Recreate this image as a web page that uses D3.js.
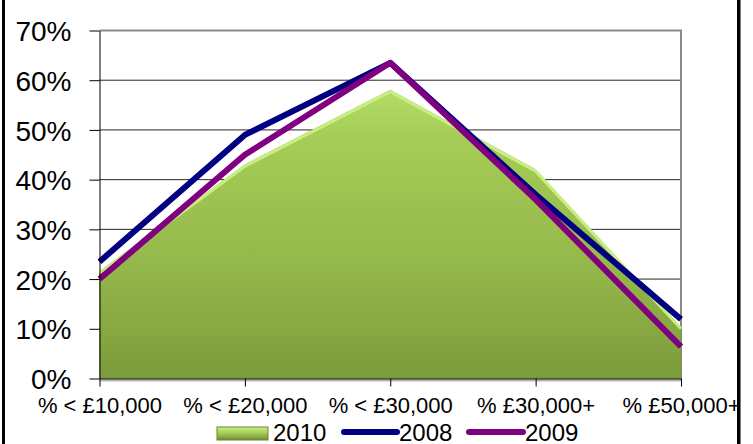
<!DOCTYPE html>
<html>
<head>
<meta charset="utf-8">
<script src="https://cdn.jsdelivr.net/npm/d3@7"></script>
<style>
  body { margin: 0; background: #fff; }
  svg { display: block; font-family: "Liberation Sans", Arial, sans-serif; }
</style>
</head>
<body>
<svg id="chart" width="753" height="444"></svg>
<script>
// categories and series values (fractions)
var categories = ["% < £10,000", "% < £20,000", "% < £30,000", "% £30,000+", "% £50,000+"];
var values2010 = [0.215, 0.43, 0.58, 0.42, 0.103];
var values2008 = [0.235, 0.49, 0.635, 0.37, 0.119];
var values2009 = [0.20, 0.45, 0.635, 0.36, 0.064];
var yTicks = [0, 0.1, 0.2, 0.3, 0.4, 0.5, 0.6, 0.7];

var svg = d3.select("#chart");
var plotLeft = 99.5, plotRight = 681, plotTop = 30.5, plotBottom = 378.5;

var x = d3.scalePoint().domain(categories).range([plotLeft, plotRight]).padding(0);
var y = d3.scaleLinear().domain([0, 0.7]).range([plotBottom, plotTop]);

// outer frame bits (left and right black bars)
svg.append("rect").attr("x", 2).attr("y", 0).attr("width", 3).attr("height", 444).attr("fill", "#000");
svg.append("rect").attr("x", 737).attr("y", 0).attr("width", 3.5).attr("height", 444).attr("fill", "#000");

var defs = svg.append("defs");
var grad = defs.append("linearGradient")
  .attr("id", "areaGrad")
  .attr("gradientUnits", "userSpaceOnUse")
  .attr("x1", 0).attr("y1", plotTop).attr("x2", 0).attr("y2", plotBottom);
grad.append("stop").attr("offset", "0%").attr("stop-color", "#c6ee7e");
grad.append("stop").attr("offset", "30%").attr("stop-color", "#a6cd57");
grad.append("stop").attr("offset", "70%").attr("stop-color", "#93b64a");
grad.append("stop").attr("offset", "100%").attr("stop-color", "#7c9b3b");

var legGrad = defs.append("linearGradient")
  .attr("id", "legGrad").attr("x1", 0).attr("y1", 0).attr("x2", 0).attr("y2", 1);
legGrad.append("stop").attr("offset", "0%").attr("stop-color", "#c9f27c");
legGrad.append("stop").attr("offset", "50%").attr("stop-color", "#a3c957");
legGrad.append("stop").attr("offset", "100%").attr("stop-color", "#6f8d33");

// gridlines
svg.append("g").selectAll("line")
  .data(yTicks.filter(function(d) { return d > 0 && d < 0.7; }))
  .enter().append("line")
  .attr("x1", plotLeft).attr("x2", plotRight)
  .attr("y1", function(d) { return y(d); }).attr("y2", function(d) { return y(d); })
  .attr("stroke", "#262626").attr("stroke-width", 1);

// plot border top/right
svg.append("path")
  .attr("d", "M" + plotLeft + "," + plotTop + "H" + plotRight + "V" + plotBottom)
  .attr("fill", "none").attr("stroke", "#8a8a8a").attr("stroke-width", 2);

// 2010 area
var area = d3.area()
  .x(function(d, i) { return x(categories[i]); })
  .y0(plotBottom)
  .y1(function(d) { return y(d); });

svg.append("path")
  .datum(values2010)
  .attr("d", area)
  .attr("fill", "url(#areaGrad)")
  .attr("stroke", "#6f8c35").attr("stroke-width", 1).attr("stroke-opacity", 0.5);

// light bevel along top edge
var topLine = d3.line()
  .x(function(d, i) { return x(categories[i]); })
  .y(function(d) { return y(d) + 1.5; });
svg.append("path")
  .datum(values2010)
  .attr("d", topLine)
  .attr("fill", "none").attr("stroke", "#c8f07e").attr("stroke-width", 3);

// bottom shadow
svg.append("line")
  .attr("x1", plotLeft).attr("x2", plotRight)
  .attr("y1", plotBottom + 2).attr("y2", plotBottom + 2)
  .attr("stroke", "#b5b5b5").attr("stroke-width", 2);

// lines
var line = d3.line()
  .x(function(d, i) { return x(categories[i]); })
  .y(function(d) { return y(d); });

svg.append("path").datum(values2008).attr("d", line)
  .attr("fill", "none").attr("stroke", "#000080").attr("stroke-width", 6)
  .attr("stroke-linejoin", "round");
svg.append("path").datum(values2009).attr("d", line)
  .attr("fill", "none").attr("stroke", "#800080").attr("stroke-width", 6)
  .attr("stroke-linejoin", "round");

// y axis
var yAxis = svg.append("g")
  .attr("transform", "translate(" + plotLeft + ",0)")
  .call(d3.axisLeft(y).tickValues(yTicks).tickFormat(d3.format(".0%")).tickSize(10).tickSizeOuter(0));
yAxis.select(".domain").attr("stroke", "#000");
yAxis.selectAll(".tick line").attr("stroke", "#000");
yAxis.selectAll(".tick text")
  .attr("font-size", "28px").attr("font-family", "Liberation Sans, Arial, sans-serif")
  .attr("fill", "#000").attr("x", -28).attr("dy", "0.36em");

// x axis
var xAxis = svg.append("g")
  .attr("transform", "translate(0," + plotBottom + ")")
  .call(d3.axisBottom(x).tickSize(8).tickSizeOuter(0));
xAxis.select(".domain").attr("stroke", "#000");
xAxis.selectAll(".tick line").attr("stroke", "#000");
xAxis.selectAll(".tick text")
  .attr("font-size", "22px").attr("font-family", "Liberation Sans, Arial, sans-serif")
  .attr("fill", "#000").attr("y", 34).attr("dy", 0);

// legend
var leg = svg.append("g").attr("font-size", "24px");
leg.append("rect").attr("x", 217).attr("y", 427).attr("width", 51).attr("height", 13)
  .attr("fill", "url(#legGrad)").attr("stroke", "#6a8630").attr("stroke-width", 1);
leg.append("text").attr("x", 273).attr("y", 441).text("2010");
leg.append("line").attr("x1", 344).attr("x2", 397).attr("y1", 432).attr("y2", 432)
  .attr("stroke", "#000080").attr("stroke-width", 6).attr("stroke-linecap", "round");
leg.append("text").attr("x", 399).attr("y", 441).text("2008");
leg.append("line").attr("x1", 469).attr("x2", 523).attr("y1", 432).attr("y2", 432)
  .attr("stroke", "#800080").attr("stroke-width", 6).attr("stroke-linecap", "round");
leg.append("text").attr("x", 525).attr("y", 441).text("2009");
</script>
</body>
</html>
